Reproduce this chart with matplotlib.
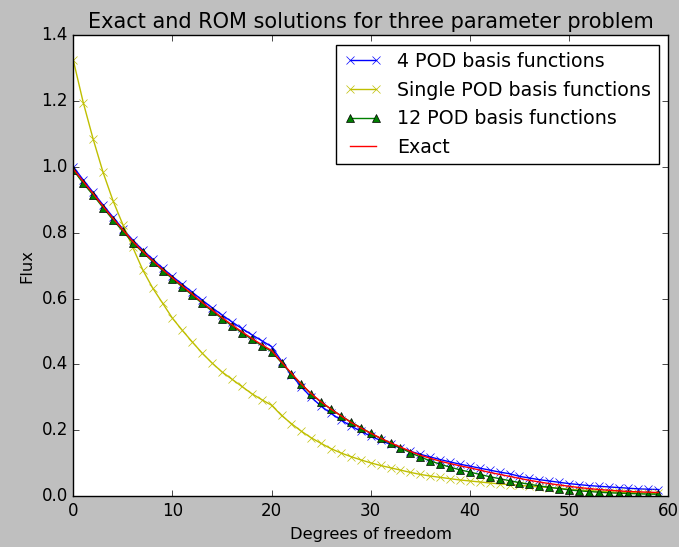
import numpy as np
import matplotlib
matplotlib.use('Agg')
import matplotlib.pyplot as plt

plt.style.use('classic')

# degrees of freedom 0..59
dof = np.arange(60)

# 4 POD basis functions
pod4 = [1.000, 0.960, 0.922, 0.884, 0.847, 0.811, 0.777, 0.747, 0.719, 0.692,
        0.667, 0.643, 0.619, 0.595, 0.572, 0.550, 0.529, 0.509, 0.490, 0.472,
        0.454, 0.410, 0.368, 0.332, 0.300, 0.273, 0.251, 0.231, 0.213, 0.197,
        0.182, 0.169, 0.157, 0.146, 0.136, 0.127, 0.119, 0.111, 0.104, 0.097,
        0.091, 0.085, 0.079, 0.073, 0.068, 0.060, 0.055, 0.050, 0.046, 0.042,
        0.038, 0.035, 0.032, 0.030, 0.028, 0.026, 0.024, 0.022, 0.021, 0.020]

# single POD basis function
pod1 = [1.323, 1.195, 1.084, 0.983, 0.897, 0.824, 0.755, 0.687, 0.632, 0.586,
        0.540, 0.503, 0.468, 0.434, 0.404, 0.377, 0.355, 0.333, 0.311, 0.293,
        0.276, 0.245, 0.220, 0.197, 0.177, 0.160, 0.144, 0.131, 0.120, 0.110,
        0.101, 0.093, 0.086, 0.079, 0.072, 0.066, 0.061, 0.057, 0.053, 0.049,
        0.046, 0.043, 0.040, 0.037, 0.035, 0.033, 0.030, 0.028, 0.026, 0.024,
        0.021, 0.019, 0.017, 0.015, 0.013, 0.012, 0.011, 0.010, 0.009, 0.008]

# 12 POD basis functions
pod12 = [0.990, 0.950, 0.914, 0.876, 0.839, 0.804, 0.770, 0.740, 0.712, 0.685,
         0.660, 0.635, 0.610, 0.585, 0.562, 0.539, 0.517, 0.496, 0.476, 0.457,
         0.439, 0.405, 0.371, 0.339, 0.310, 0.285, 0.264, 0.244, 0.225, 0.208,
         0.191, 0.175, 0.160, 0.146, 0.132, 0.119, 0.107, 0.097, 0.088, 0.080,
         0.073, 0.066, 0.059, 0.053, 0.047, 0.041, 0.036, 0.031, 0.027, 0.023,
         0.019, 0.016, 0.014, 0.012, 0.010, 0.009, 0.008, 0.007, 0.006, 0.006]

# exact solution
exact = [0.993, 0.955, 0.918, 0.880, 0.843, 0.808, 0.773, 0.743, 0.715, 0.688,
         0.663, 0.638, 0.613, 0.588, 0.565, 0.542, 0.520, 0.499, 0.479, 0.460,
         0.442, 0.407, 0.373, 0.340, 0.311, 0.286, 0.264, 0.244, 0.224, 0.207,
         0.191, 0.176, 0.162, 0.149, 0.136, 0.124, 0.115, 0.106, 0.099, 0.092,
         0.086, 0.079, 0.072, 0.066, 0.060, 0.054, 0.048, 0.043, 0.038, 0.034,
         0.030, 0.026, 0.023, 0.020, 0.018, 0.016, 0.014, 0.013, 0.012, 0.011]

fig = plt.figure(figsize=(6.79, 5.47), dpi=100)
ax = fig.add_subplot(111)
fig.subplots_adjust(left=0.108, right=0.984, top=0.936, bottom=0.093)

ax.plot(dof, pod4, 'b-x', label='4 POD basis functions')
ax.plot(dof, pod1, 'y-x', label='Single POD basis functions')
ax.plot(dof, pod12, 'g-^', mec='k', mew=0.5, label='12 POD basis functions')
ax.plot(dof, exact, 'r-', label='Exact')

ax.set_xlim(0, 60)
ax.set_ylim(0, 1.4)
ax.set_xlabel('Degrees of freedom', fontsize=11.7)
ax.set_ylabel('Flux', fontsize=11.7)
ax.set_title('Exact and ROM solutions for three parameter problem', fontsize=15)
ax.legend(loc='upper right', numpoints=2, fontsize=13.7)

fig.savefig('out.png', dpi=100, facecolor=fig.get_facecolor())
